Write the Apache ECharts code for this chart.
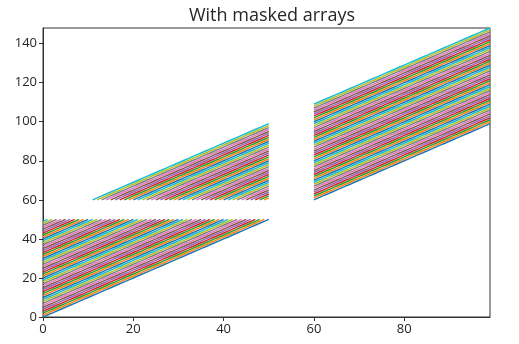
<!DOCTYPE html>
<html>
<head>
<meta charset="utf-8">
<script src="https://cdn.jsdelivr.net/npm/echarts@6/dist/echarts.min.js"></script>
<style>
html,body{margin:0;padding:0;background:#fff;}
#chart{width:519px;height:344px;}
</style>
</head>
<body>
<div id="chart"></div>
<script>
// x positions of every sample
const xValues = [0,1,2,3,4,5,6,7,8,9,10,11,12,13,14,15,16,17,18,19,20,21,22,23,24,25,26,27,28,29,30,31,32,33,34,35,36,37,38,39,40,41,42,43,44,45,46,47,48,49,50,51,52,53,54,55,56,57,58,59,60,61,62,63,64,65,66,67,68,69,70,71,72,73,74,75,76,77,78,79,80,81,82,83,84,85,86,87,88,89,90,91,92,93,94,95,96,97,98,99];
// vertical offset of each of the 50 lines (y = x + offset)
const offsets = [0,1,2,3,4,5,6,7,8,9,10,11,12,13,14,15,16,17,18,19,20,21,22,23,24,25,26,27,28,29,30,31,32,33,34,35,36,37,38,39,40,41,42,43,44,45,46,47,48,49];
// masked (open) intervals
const maskX = [50, 60];
const maskY = [50, 60];
const xTicks = [0, 20, 40, 60, 80];
const yTicks = [0, 20, 40, 60, 80, 100, 120, 140];
const title = 'With masked arrays';

const palette = ['#1f77b4','#ff7f0e','#2ca02c','#d62728','#9467bd','#8c564b','#e377c2','#7f7f7f','#bcbd22','#17becf'];

const series = offsets.map((off, i) => ({
  type: 'line',
  showSymbol: false,
  symbol: 'none',
  connectNulls: false,
  animation: false,
  silent: true,
  lineStyle: { width: 1.5, color: palette[i % 10], cap: 'butt' },
  data: xValues.map(x => {
    const y = x + off;
    const masked = (x > maskX[0] && x < maskX[1]) || (y > maskY[0] && y < maskY[1]);
    return [x, masked ? null : y];
  })
}));

const chart = echarts.init(document.getElementById('chart'), null, { renderer: 'canvas' });
const labelFont = { fontFamily: 'Open Sans', fontSize: 13, color: '#262626' };
chart.setOption({
  animation: false,
  backgroundColor: '#fff',
  title: {
    text: title, left: 267, top: 2, textAlign: 'center',
    textStyle: { fontFamily: 'Open Sans', fontSize: 18, fontWeight: 'normal', color: '#262626' }
  },
  grid: { left: 43, right: 29, top: 28, bottom: 27, show: true, borderColor: '#333', borderWidth: 1, containLabel: false },
  xAxis: {
    type: 'value', min: 0, max: 99,
    splitLine: { show: false },
    axisLine: { show: true, onZero: false, lineStyle: { color: '#333', width: 1 } },
    axisTick: { show: true, length: 4, customValues: xTicks, lineStyle: { color: '#333' } },
    axisLabel: Object.assign({ customValues: xTicks, margin: 6 }, labelFont)
  },
  yAxis: {
    type: 'value', min: 0, max: 148,
    splitLine: { show: false },
    axisLine: { show: true, onZero: false, lineStyle: { color: '#333', width: 1 } },
    axisTick: { show: true, length: 4, customValues: yTicks, lineStyle: { color: '#333' } },
    axisLabel: Object.assign({ customValues: yTicks, margin: 6 }, labelFont)
  },
  series: series
});
</script>
</body>
</html>
